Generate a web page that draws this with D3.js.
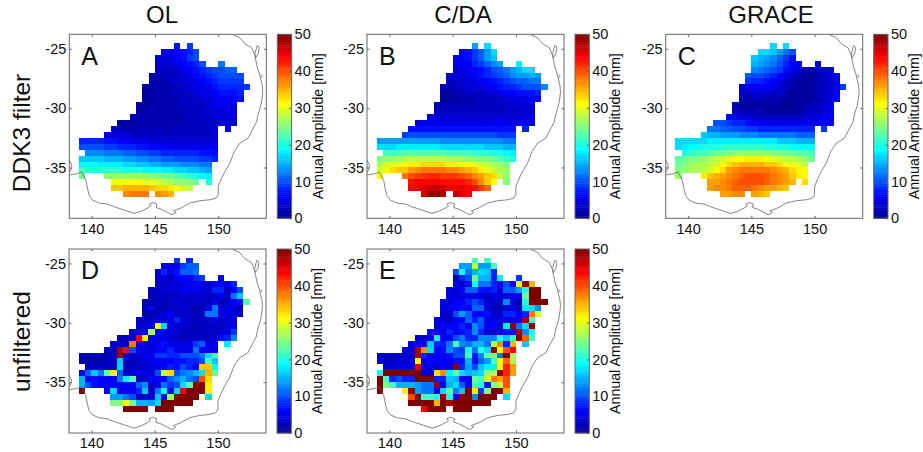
<!DOCTYPE html>
<html><head><meta charset="utf-8">
<script src="https://cdn.jsdelivr.net/npm/d3@7"></script>
<style>
html,body{margin:0;padding:0;background:#fff}
svg{display:block}
text{font-family:"Liberation Sans",Arial,sans-serif;fill:#111}
</style></head><body>
<svg id="chart" width="923" height="452"></svg>
<script>
// first grid column (0 = 139°E) of each row, rows run from 24.5°S southward in 0.5° steps
const rowStart = [15,13,12,12,12,11,11,10,10,10,9,9,8,6,5,4,0,0,1,0,0,0,0,5,5,7];
const _ = null;
const olFiltered = [
[7,_,9],
[5,5,6,7,8,10],
[4,4,5,6,7,9,10],
[3,4,4,5,6,7,8,10,_,_,12],
[3,3,3,4,5,6,7,8,9,10,10,11,11],
[2,2,3,3,3,4,5,6,7,8,9,10,10,10,10],
[2,2,2,3,3,4,4,5,6,7,8,9,9,9,9],
[1,1,2,2,2,3,3,4,5,5,6,7,8,8,8,8,9],
[1,1,2,2,2,3,3,3,4,5,5,6,7,7,7,8],
[1,1,2,2,2,2,3,3,3,4,4,5,6,6,6,7],
[1,1,2,2,2,2,2,3,3,3,3,4,5,5,5,5],
[1,2,2,2,2,2,2,2,3,3,3,4,4,4,5,5],
[2,2,2,2,2,2,2,2,2,3,3,3,3,4,4,4,5],
[1,1,1,2,2,2,2,2,2,2,2,3,3,3,3,3,4,4,4],
[3,3,2,2,2,2,2,2,2,2,3,3,3,3,3,3,4,_,5],
[4,4,4,4,3,3,3,3,3,3,3,3,3,3,3,3,3,4],
[8,8,8,8,7,7,6,6,5,5,5,4,4,4,4,4,4,4,4,4,4,4],
[10,10,10,10,9,9,8,8,8,7,7,6,6,6,5,5,5,5,5,5,5,6],
[13,13,13,12,12,12,11,11,10,10,9,9,8,8,8,8,8,8,7,7,7],
[16,16,16,16,15,15,15,14,14,13,13,12,12,11,11,10,10,10,10,9,9,8],
[19,19,19,18,18,18,18,17,17,16,16,15,15,14,14,14,13,13,13,12,12],
[22,21,21,21,21,21,21,20,20,20,19,19,19,18,18,17,17,16,16,15,14],
[24,_,_,_,26,26,26,26,26,26,26,25,25,24,24,23,22,21,20,19,18],
[31,31,31,31,31,30,30,29,28,27,26,26,25,24,_,20],
[34,34,35,35,35,35,34,33,33,32,31,29,28],
[37,38,38,38,_,37,36,35]
];
const daFiltered = [
[14,_,17],
[6,7,9,11,14,17],
[5,6,7,9,11,14,16],
[5,6,6,8,9,11,13,14,_,_,18],
[4,5,5,6,7,8,10,11,12,14,15,17,17],
[3,4,4,5,6,7,8,9,10,11,13,14,14,15,14],
[3,3,4,4,5,5,6,7,8,9,10,11,11,12,12],
[2,2,3,3,4,4,5,5,6,7,8,8,9,10,10,10,13],
[1,1,2,2,3,3,3,4,4,5,6,6,7,7,7,8],
[1,1,1,2,2,2,3,3,3,3,4,5,5,5,6,6],
[2,2,2,2,2,2,2,3,3,3,3,3,4,4,4,4],
[3,3,3,3,3,3,3,3,3,3,3,3,3,3,4,4],
[4,4,4,4,4,4,4,4,4,4,4,4,4,4,4,4,5],
[4,5,5,5,5,5,5,5,5,5,5,5,5,6,5,5,5,5,5],
[7,7,7,7,7,7,7,7,7,7,7,7,7,7,7,7,7,_,8],
[9,10,10,10,10,10,10,10,10,10,10,10,10,10,10,9,9,9],
[14,14,14,14,14,14,14,14,14,14,13,13,13,13,13,13,13,13,13,13,12,12],
[17,17,17,18,18,18,18,18,18,18,17,17,17,17,17,17,17,16,16,16,15,15],
[22,22,22,23,23,23,23,23,23,23,22,22,22,22,21,21,21,20,20,19,18],
[25,26,26,27,27,28,28,28,28,28,28,27,27,27,26,26,25,25,24,23,22,20],
[27,29,30,30,31,32,32,33,33,33,33,32,32,31,31,30,29,28,27,26,25],
[29,31,33,34,34,36,37,38,38,38,38,37,37,36,35,34,32,30,29,27,26],
[31,_,_,_,38,40,41,41,42,42,41,41,41,40,39,37,36,34,33,29,26],
[43,44,44,44,44,43,43,43,43,42,40,37,34,31,_,25],
[44,45,46,46,47,46,45,45,45,44,43,41,39],
[46,49,49,48,_,47,46,44]
];
const graceFiltered = [
[17,_,17],
[17,17,16,14,12,10],
[16,15,14,13,11,9,7],
[15,14,13,12,10,8,6,5,_,_,3],
[13,12,11,10,9,7,5,4,2,2,3,4,5],
[11,10,10,9,8,6,5,3,2,1,1,2,3,4,6],
[9,8,8,7,6,5,3,2,1,1,1,2,3,4,6],
[4,5,6,6,6,5,4,3,2,1,1,1,2,3,4,6,9],
[3,3,4,4,4,3,3,2,1,1,1,1,2,3,4,6],
[2,2,3,3,2,2,2,1,1,1,1,1,2,3,4,6],
[2,1,1,1,1,1,1,1,0,0,1,1,2,3,4,5],
[3,2,2,2,2,1,1,1,1,1,1,2,3,3,4,5],
[6,5,4,4,3,3,3,3,3,3,3,3,4,4,5,5,6],
[10,10,9,8,8,7,6,5,5,5,5,5,5,5,5,5,6,6,6],
[12,12,11,11,10,10,9,9,8,8,8,8,8,8,8,8,8,_,9],
[16,15,15,14,14,14,13,13,13,12,12,12,12,12,12,11,11,11],
[17,17,17,17,17,18,18,18,18,18,18,18,18,18,18,18,16,16,16,15,15,15],
[17,18,19,19,20,20,20,21,21,21,21,21,21,21,20,20,20,20,19,19,19,19],
[20,21,22,22,23,24,24,25,26,26,26,26,26,26,25,25,24,24,23,23,22],
[23,24,25,25,26,27,28,29,30,31,31,32,32,32,31,30,29,28,28,27,26,24],
[24,25,26,27,27,28,29,31,33,34,35,35,35,35,34,34,33,31,30,30,28],
[25,26,27,27,28,29,31,33,36,37,38,38,38,38,38,37,36,35,33,32,31],
[26,_,_,_,32,34,35,36,37,38,39,40,40,40,39,38,37,36,34,32,31],
[36,36,37,38,39,40,40,40,40,39,38,37,36,35,_,33],
[36,37,37,38,39,39,39,38,37,36,36,35,34],
[36,36,37,37,_,36,35,34]
];
const olUnfiltered = [
[9,_,8],
[4,5,5,9,11,11],
[3,8,5,7,11,11,12],
[4,4,3,6,6,6,8,9,_,_,5],
[3,3,4,4,5,5,6,6,3,6,6,5,8],
[3,3,4,4,4,6,5,6,4,4,8,8,3,6,10],
[2,3,3,3,3,4,3,3,4,3,3,6,3,12,16],
[2,2,3,3,3,4,3,3,4,3,3,5,2,3,6,7,23],
[3,5,2,2,3,3,4,3,2,2,5,12,4,5,4,2],
[2,2,3,4,6,3,3,3,2,3,12,12,4,5,4,4],
[3,3,3,4,5,4,8,4,3,3,3,3,5,3,4,5],
[4,4,5,31,17,5,3,4,3,2,3,3,3,3,4,5],
[3,4,6,27,6,5,4,4,3,3,3,3,3,3,4,4,9],
[2,3,3,44,32,6,5,5,4,3,2,3,3,3,3,4,7,8,13],
[3,3,3,38,5,4,4,6,7,5,5,5,5,9,11,5,5,_,18],
[3,3,48,44,10,5,5,4,6,6,8,5,5,5,12,5,5,5],
[2,2,2,2,2,3,49,3,3,4,5,5,9,9,8,8,10,10,10,12,17,23],
[2,2,2,2,3,3,16,3,3,3,4,5,6,5,6,7,7,8,8,10,22,16],
[3,3,3,3,3,17,3,3,3,3,4,5,6,8,7,10,8,6,34,34,19],
[6,11,16,12,23,32,11,3,4,5,5,4,10,28,33,10,12,13,15,17,35,24],
[15,6,7,6,6,5,12,18,23,3,3,6,5,6,11,13,15,12,10,40,33],
[15,10,7,6,6,6,5,6,6,11,13,3,5,12,9,10,17,23,49,50,32],
[50,_,_,_,6,17,5,5,6,8,16,3,12,19,7,17,44,50,50,50,32],
[14,14,12,10,3,3,4,16,5,26,50,50,50,50,_,17],
[25,25,31,24,15,15,14,17,50,50,50,50,50],
[50,50,50,50,_,50,50,50]
];
const daUnfiltered = [
[22,_,22],
[14,14,28,14,14,22],
[10,19,12,15,17,16,8],
[2,8,10,24,15,15,8,18,_,_,9],
[5,3,7,20,12,12,8,5,10,6,30,49,35],
[5,4,6,11,11,7,7,8,4,11,11,14,20,50,50],
[5,4,5,5,5,4,3,5,4,5,5,6,24,50,50],
[5,4,6,6,8,10,8,4,3,3,13,4,2,20,50,50,50],
[5,5,6,7,6,11,11,4,3,2,4,5,2,18,17,13],
[3,3,10,14,11,6,6,7,4,3,8,8,5,8,38,29],
[4,4,3,6,6,11,8,11,5,5,5,5,5,5,48,22],
[4,6,6,6,8,5,13,10,6,6,4,18,49,12,17,49],
[7,6,5,8,6,7,8,13,8,4,3,6,7,7,48,13,20],
[4,3,5,19,5,6,10,12,8,8,13,13,13,20,16,22,50,39,22],
[5,5,5,16,8,8,12,22,13,12,15,15,12,27,37,8,35,_,16],
[4,4,48,37,17,6,7,13,10,9,20,12,20,17,49,30,40,44],
[3,3,3,3,3,3,48,8,4,6,6,7,10,10,22,8,13,24,25,12,50,27],
[5,3,3,4,4,4,32,5,6,6,6,6,7,7,15,7,11,14,22,31,39,27],
[4,4,5,5,5,45,4,5,4,5,5,49,8,14,10,16,18,18,32,42,36],
[19,50,50,50,50,50,50,4,3,33,37,18,24,17,15,16,17,26,27,49,42,36],
[50,22,8,10,8,8,50,50,50,8,8,16,15,6,5,24,22,29,38,36,40],
[50,25,22,15,15,15,14,12,12,49,5,15,17,11,6,22,20,7,25,28,40],
[50,_,_,_,32,49,14,12,12,5,17,23,12,16,50,32,9,25,50,50,35],
[40,49,22,22,20,49,20,6,50,50,13,50,50,50,_,17],
[50,50,50,50,35,50,48,50,50,50,50,50,50],
[44,50,50,50,_,50,50,50]
];
const panelLetters = ["A","B","C","D","E"];
const panelValues = [olFiltered,daFiltered,graceFiltered,olUnfiltered,daUnfiltered];
const columnTitles = ["OL","C/DA","GRACE"];
const rowTitles = ["DDK3 filter","unfiltered"];
const lonTicks = [140,145,150];
const latTicks = [-25,-30,-35];
const amplitudeTicks = [0,10,20,30,40,50];
const colorbarLabel = "Annual Amplitude [mm]";
// coastline, lon / lat
const coastLon = [151.19,151.71,152.11,152.64,152.9,152.95,153.08,153.24,153.35,153.48,153.52,153.48,153.37,153.16,153.03,152.64,152.37,151.71,151.27,150.92,150.53,150.27,150,150,149.82,149.34,148.55,147.76,147.05,146.48,146.66,146.34,146,145.47,145.08,145.16,144.82,144.55,144.68,144.42,143.89,143.37,142.58,141.79,141.26,140.6,140.08,139.81,139.68,139.55,139.39,139.21,138.82,138.23];
const coastLat = [-23.82,-24.07,-24.58,-24.92,-25.56,-25.84,-26.54,-27.05,-27.53,-28.09,-28.6,-29.07,-29.78,-30.48,-31.17,-31.93,-32.52,-32.95,-33.65,-34.63,-35.33,-35.89,-36.6,-37.3,-37.58,-37.72,-37.8,-38,-38.42,-38.65,-38.79,-38.98,-38.79,-38.5,-38.37,-38.08,-37.95,-38.08,-38.23,-38.42,-38.7,-38.87,-38.59,-38.31,-38.08,-38,-37.75,-37.38,-36.82,-36.1,-35.76,-35.39,-35.53,-35.64];
const gulfLon = [138.23,138.42,138.42,138.23];
const gulfLat = [-34.37,-34.79,-35.05,-35.42];
const fraserLon = [153.08,153.24,153.16,152.95,152.9,153.08];
const fraserLat = [-24.72,-24.86,-25.42,-25.76,-25.42,-24.72];
const moretonLon = [153.37,153.5,153.37];
const moretonLat = [-27.16,-27.33,-27.47];

const jetStops = ["#00008f","#0000ff","#0080ff","#00ffff","#80ff80","#ffff00","#ff8000","#ff0000","#800000"];
const color = d3.scaleLinear().domain(d3.range(9).map(i=>i*6.25)).range(jetStops).clamp(true);

const lefts = [69.3,367,665.7,69,367], tops = [34.3,34.3,34.3,249,249];
const letterBase = [31,31,31,30,30];
const W = 197, H = 184, frame = "#666";
const tickFont = 14.5;
const svg = d3.select("#chart");
const defs = svg.append("defs");
defs.append("filter").attr("id","soft").attr("x","-5%").attr("y","-5%").attr("width","110%").attr("height","110%")
  .append("feGaussianBlur").attr("stdDeviation",0.35);

panelValues.forEach((rows,p)=>{
  const x = d3.scaleLinear().domain([138.23,153.8]).range([0,W]);
  const y = d3.scaleLinear().domain([-23.78,-39.28]).range([0,H]);
  const g = svg.append("g").attr("transform",`translate(${lefts[p]},${tops[p]})`);
  const cid = "clip"+p;
  defs.append("clipPath").attr("id",cid).append("rect").attr("width",W).attr("height",H);
  const cells = [];
  rows.forEach((vals,r)=>vals.forEach((v,i)=>{ if(v!==null) cells.push({lon:139+0.5*(rowStart[r]+i),lat:-24.5-0.5*r,v}); }));
  g.append("g").attr("filter","url(#soft)").attr("shape-rendering","crispEdges").selectAll("rect").data(cells).join("rect")
    .attr("x",d=>x(d.lon)).attr("y",d=>y(d.lat))
    .attr("width",x(0.5)-x(0)).attr("height",y(-0.5)-y(0))
    .attr("fill",d=>color(d.v));
  const line = d3.line().x(d=>x(d[0])).y(d=>y(d[1]));
  const cg = g.append("g").attr("clip-path",`url(#${cid})`).attr("fill","none").attr("stroke","#666").attr("stroke-width",0.8);
  [[coastLon,coastLat],[gulfLon,gulfLat],[fraserLon,fraserLat],[moretonLon,moretonLat]].forEach(([a,b])=>
    cg.append("path").attr("d",line(a.map((v,i)=>[v,b[i]]))));
  g.append("rect").attr("width",W).attr("height",H).attr("fill","none").attr("stroke",frame).attr("stroke-width",1);
  const xa = g.append("g").attr("transform",`translate(0,${H})`).call(d3.axisBottom(x).tickValues(lonTicks).tickSize(-2.5).tickPadding(5).tickFormat(String));
  const xt = g.append("g").call(d3.axisTop(x).tickValues(lonTicks).tickSize(-2.5).tickFormat(""));
  const ya = g.append("g").call(d3.axisLeft(y).tickValues(latTicks).tickSize(-2.5).tickPadding(3).tickFormat(String));
  const yr = g.append("g").attr("transform",`translate(${W},0)`).call(d3.axisRight(y).tickValues(latTicks).tickSize(-2.5).tickFormat(""));
  [xa,xt,ya,yr].forEach(a=>{a.select(".domain").remove();a.selectAll("line").attr("stroke",frame);a.selectAll("text").attr("font-size",tickFont).attr("font-family",null);});
  g.append("text").attr("x",12).attr("y",letterBase[p]).attr("font-size",25).text(panelLetters[p]);

  // colorbar
  const cb = g.append("g").attr("transform",`translate(${W+11},0)`);
  const cw = 14.3;
  const cs = d3.scaleLinear().domain([0,50]).range([H,0]);
  cb.selectAll("rect").data(d3.range(0,50,0.5)).join("rect")
    .attr("x",0).attr("width",cw).attr("y",d=>cs(d+0.5)).attr("height",cs(0)-cs(0.5)+0.4).attr("fill",d=>color(d+0.25));
  cb.append("rect").attr("width",cw).attr("height",H).attr("fill","none").attr("stroke",frame);
  const ca = cb.append("g").attr("transform",`translate(${cw},0)`).call(d3.axisRight(cs).tickValues(amplitudeTicks).tickSize(-2.5).tickPadding(3).tickFormat(String));
  ca.select(".domain").remove(); ca.selectAll("line").attr("stroke",frame);
  ca.selectAll("text").attr("font-size",tickFont).attr("font-family",null);
  cb.append("text").attr("transform",`translate(${cw+31},${H/2}) rotate(-90)`).attr("text-anchor","middle").attr("font-size",14.2).text(colorbarLabel);
});

const titleCentres = [162,463,771];
columnTitles.forEach((t,i)=>{
  svg.append("text").attr("x",titleCentres[i]).attr("y",22.7).attr("text-anchor","middle").attr("font-size",24).text(t);
});
const rowCentres = [133,341.5];
rowTitles.forEach((t,i)=>{
  svg.append("text").attr("transform",`translate(30,${rowCentres[i]}) rotate(-90)`).attr("text-anchor","middle").attr("font-size",24.5).text(t);
});
</script>
</body></html>
